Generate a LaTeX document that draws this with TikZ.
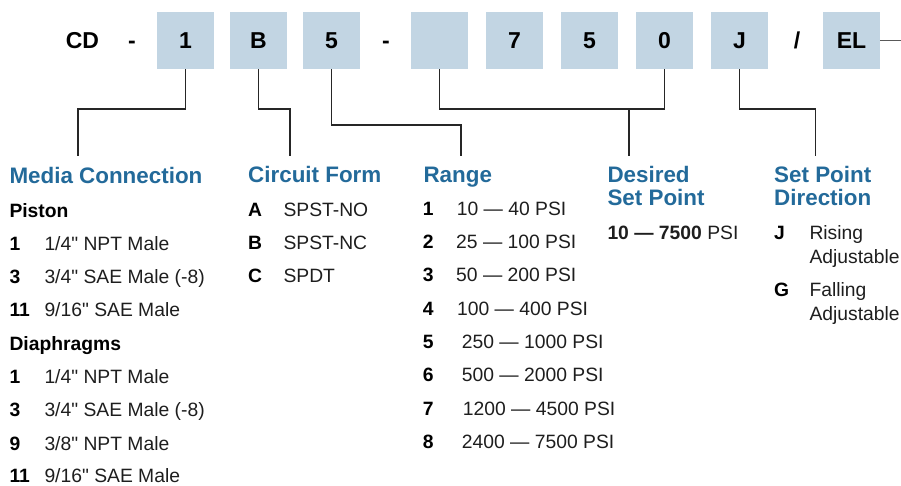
\documentclass[tikz,border=0pt]{standalone}
\usepackage{fontspec}
\setmainfont{Liberation Sans}[Ligatures=TeXOff]
\definecolor{boxblue}{HTML}{C2D5E3}
\definecolor{titleblue}{HTML}{236A9A}
\definecolor{bodytxt}{HTML}{1E1E1E}
\tikzset{
  codebox/.style={fill=boxblue,minimum width=57pt,minimum height=57pt,inner sep=0pt,
    font=\fontsize{23}{25}\selectfont\bfseries},
  codetxt/.style={inner sep=0pt,anchor=base,font=\fontsize{23}{25}\selectfont\bfseries},
  conn/.style={draw=black!85,line width=1.2pt},
  ttl/.style={anchor=base west,inner sep=0pt,text=titleblue,
    font=\fontsize{22.4}{22.7}\selectfont\bfseries,align=left},
  lbl/.style={anchor=base west,inner sep=0pt,font=\fontsize{19.3}{20}\selectfont\bfseries},
  txt/.style={anchor=base west,inner sep=0pt,text=bodytxt,font=\fontsize{19.3}{24}\selectfont,align=left},
}
\begin{document}
\begin{tikzpicture}[x=1pt,y=-1pt]
\useasboundingbox (0,0) rectangle (901,485);
% code row
\node[codetxt] (cd) at (82.5,48.5) {CD};
\node[codetxt] (d1) at (132,48.5) {-};
\node[codebox] (b1) at (185.5,40.5) {1};
\node[codebox] (bB) at (258.5,40.5) {B};
\node[codebox] (b5) at (331.5,40.5) {5};
\node[codetxt] (d2) at (386,48.5) {-};
\node[codebox] (bx) at (439.5,40.5) {};
\node[codebox] (b7) at (514.5,40.5) {7};
\node[codebox] (b5b) at (589.5,40.5) {5};
\node[codebox] (b0) at (664.5,40.5) {0};
\node[codebox] (bJ) at (739.5,40.5) {J};
\node[codetxt] (sl) at (797,48.5) {/};
\node[codebox] (bEL) at (851.5,40.5) {EL};
\coordinate (eEL) at (901,40.5);
\draw[draw=black!65,line width=1.6pt] (bEL.east) -- (eEL);
% connector ends
\coordinate (e1) at (78,156);
\coordinate (e2) at (290,156);
\coordinate (e3) at (461,156);
\coordinate (j4) at (629,108.7);
\coordinate (e4) at (629,156);
\coordinate (e5) at (815.7,156);
\draw[conn] (b1.south) -- ++(0,39.7) -| (e1);
\draw[conn] (bB.south) -- ++(0,39.7) -| (e2);
\draw[conn] (b5.south) -- ++(0,55.7) -| (e3);
\draw[conn] (bx.south) -- ++(0,39.7) -| (b0.south);
\draw[conn] (j4) -- (e4);
\draw[conn] (bJ.south) -- ++(0,39.7) -| (e5);
% Media Connection
\node[ttl] (tm) at (9.3,183.3) {Media Connection};
\node[lbl] (piston) at (9.3,217.7) {Piston};
\node[lbl] (m1n) at (9.3,250) {1};   \node[txt] (m1t) at (44.3,250) {1/4" NPT Male};
\node[lbl] (m2n) at (9.3,283.3) {3}; \node[txt] (m2t) at (44.3,283.3) {3/4" SAE Male (-8)};
\node[lbl] (m3n) at (9.3,316.7) {11};\node[txt] (m3t) at (44.3,316.7) {9/16" SAE Male};
\node[lbl] (diaph) at (9.3,350) {Diaphragms};
\node[lbl] (m4n) at (9.3,383.3) {1}; \node[txt] (m4t) at (44.3,383.3) {1/4" NPT Male};
\node[lbl] (m5n) at (9.3,416.7) {3}; \node[txt] (m5t) at (44.3,416.7) {3/4" SAE Male (-8)};
\node[lbl] (m6n) at (9.3,450) {9};   \node[txt] (m6t) at (44.3,450) {3/8" NPT Male};
\node[lbl] (m7n) at (9.3,482.5) {11};\node[txt] (m7t) at (44.3,482.5) {9/16" SAE Male};
% Circuit Form
\node[ttl] (tc) at (248,182.3) {Circuit Form};
\node[lbl] (c1n) at (248,216) {A};   \node[txt] (c1t) at (283.3,216) {SPST-NO};
\node[lbl] (c2n) at (248,249.3) {B}; \node[txt] (c2t) at (283.3,249.3) {SPST-NC};
\node[lbl] (c3n) at (248,282.3) {C}; \node[txt] (c3t) at (283.3,282.3) {SPDT};
% Range
\node[ttl] (tr) at (423.3,182.3) {Range};
\node[lbl] (r1n) at (422.7,215) {1};   \node[txt] (r1t) at (456.7,215) {10 — 40 PSI};
\node[lbl] (r2n) at (422.7,248.3) {2}; \node[txt] (r2t) at (456,248.3) {25 — 100 PSI};
\node[lbl] (r3n) at (422.7,281.7) {3}; \node[txt] (r3t) at (456,281.7) {50 — 200 PSI};
\node[lbl] (r4n) at (422.7,315) {4};   \node[txt] (r4t) at (457,315) {100 — 400 PSI};
\node[lbl] (r5n) at (422.7,348.3) {5}; \node[txt] (r5t) at (461.7,348.3) {250 — 1000 PSI};
\node[lbl] (r6n) at (422.7,381.7) {6}; \node[txt] (r6t) at (461.7,381.7) {500 — 2000 PSI};
\node[lbl] (r7n) at (422.7,415) {7};   \node[txt] (r7t) at (462.7,415) {1200 — 4500 PSI};
\node[lbl] (r8n) at (422.7,448.3) {8}; \node[txt] (r8t) at (461.7,448.3) {2400 — 7500 PSI};
% Desired Set Point (base anchor = last line)
\node[ttl] (td) at (607.3,205) {Desired\\Set Point};
\node[txt] (dsp) at (607.3,239.3) {\textbf{10 — 7500} PSI};
% Set Point Direction
\node[ttl] (ts) at (774,205) {Set Point\\Direction};
\node[lbl] (s1n) at (774,239.3) {J}; \node[txt] (s1t) at (809.3,263.3) {Rising\\Adjustable};
\node[lbl] (s2n) at (774,296.7) {G}; \node[txt] (s2t) at (809.3,320.7) {Falling\\Adjustable};
\end{tikzpicture}
\end{document}
